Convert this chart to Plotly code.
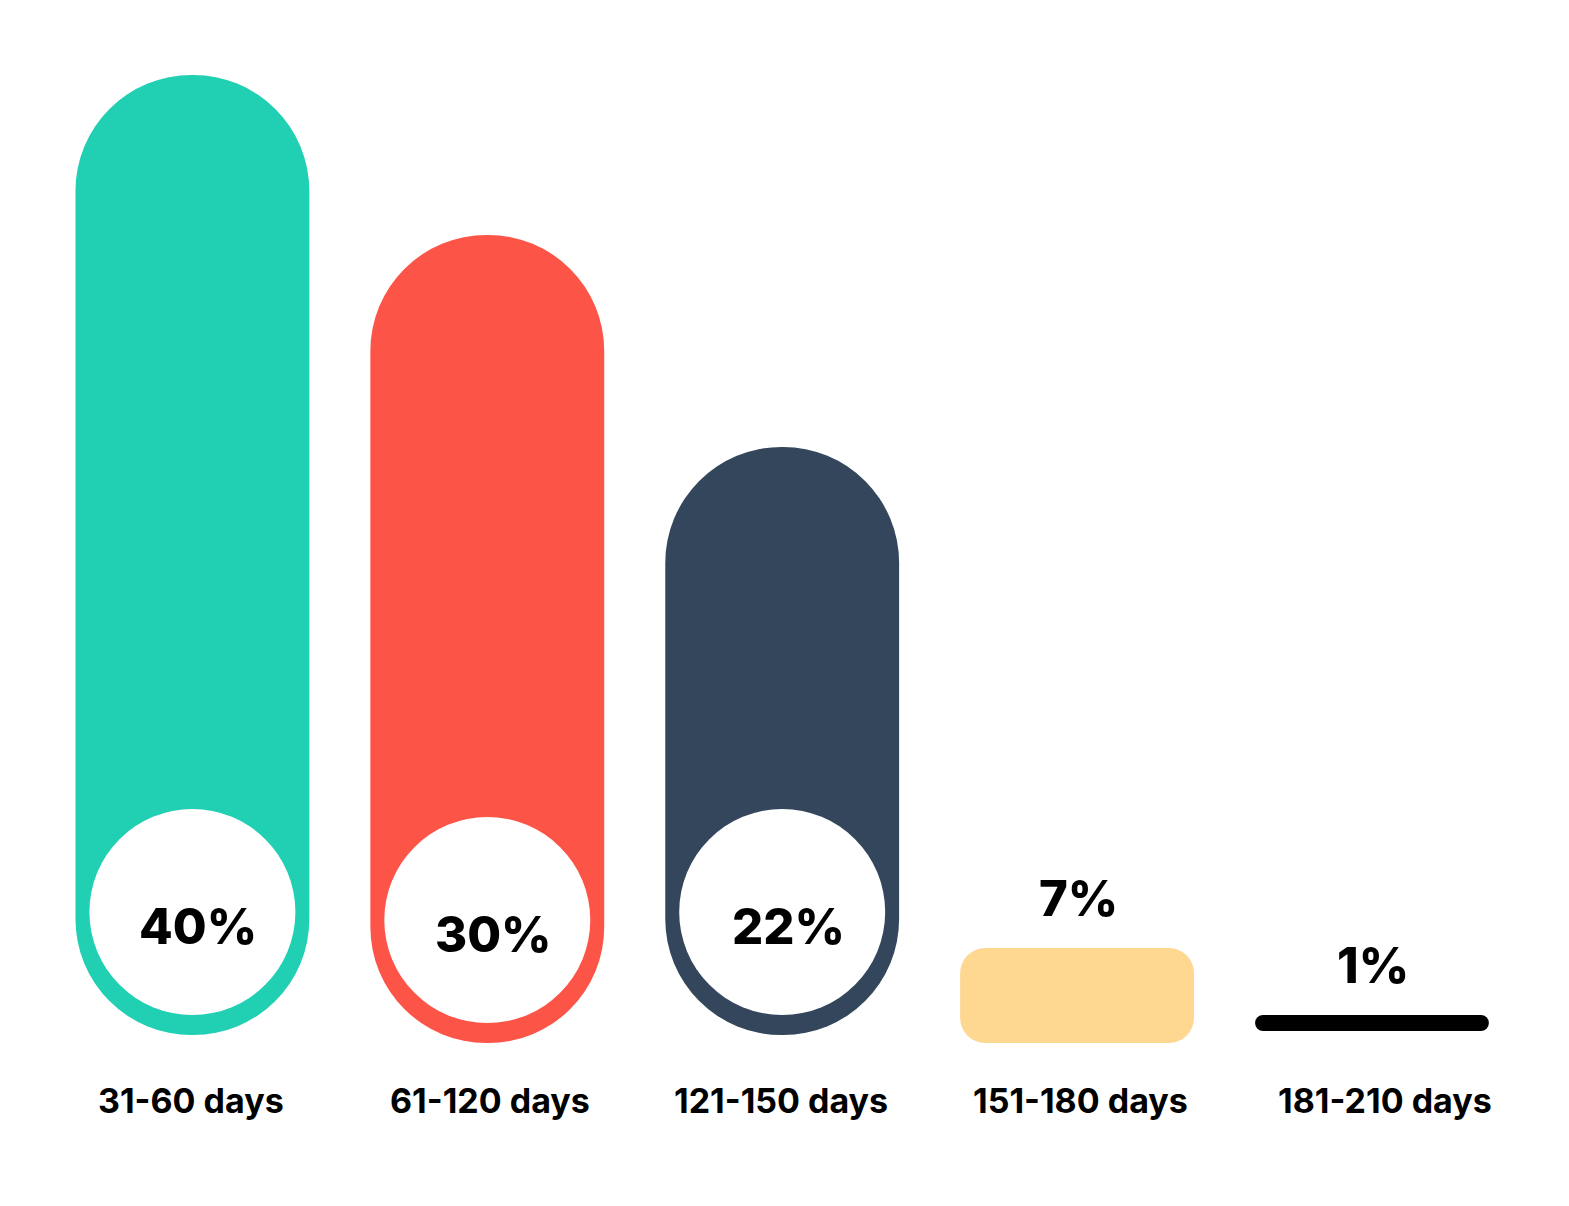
import plotly.graph_objects as go

categories = ["31-60 days", "61-120 days", "121-150 days", "151-180 days", "181-210 days"]
shares = [40, 30, 22, 7, 1]
# drawn bar lengths (px) - the design does not scale them linearly with the shares
bar_length = [960, 808, 588, 95, 16]

# styling
colors = ["#21CFB2", "#FD5448", "#33465B", "#FED891", "#000000"]
corner = [117, 117, 117, 25, 8]
bottom_offset = [0, -8, 0, -8, 4]
has_circle = [True, True, True, False, False]
label_shift = [-1, 3, -1, 3, 13]
FONT = "Inter"

BAR_W = 0.793  # in category units (~234 px)

fig = go.Figure()

# a bar with an explicit base gets rounded on both ends -> pill / rounded rect
for i, cat in enumerate(categories):
    fig.add_trace(go.Bar(
        x=[cat], y=[bar_length[i]], base=[bottom_offset[i]],
        width=BAR_W,
        marker=dict(color=colors[i], line=dict(width=0), cornerradius=corner[i]),
        hoverinfo="skip", showlegend=False,
    ))

circ_x = [c for c, h in zip(categories, has_circle) if h]
circ_y = [b + 123 for b, h in zip(bottom_offset, has_circle) if h]
fig.add_trace(go.Scatter(
    x=circ_x, y=circ_y, mode="markers",
    marker=dict(size=206, color="white", line=dict(width=0)),
    hoverinfo="skip", showlegend=False,
))

annotations = []
for i, cat in enumerate(categories):
    if has_circle[i]:
        y = bottom_offset[i] + 109
    else:
        y = bottom_offset[i] + bar_length[i] + 50
    annotations.append(dict(
        x=cat, y=y, text=f"{shares[i]}%", showarrow=False,
        xshift=6 if has_circle[i] else 1, yanchor="middle",
        font=dict(family=FONT, size=49, color="#000000", weight=800),
    ))
    annotations.append(dict(
        x=cat, y=-65, text=cat, showarrow=False, yanchor="middle",
        xshift=label_shift[i],
        font=dict(family=FONT, size=34, color="#000000", weight=700),
    ))

fig.update_layout(
    width=1553, height=1190,
    margin=dict(l=0, r=0, t=0, b=0),
    paper_bgcolor="white", plot_bgcolor="white",
    barmode="overlay",
    annotations=annotations,
    xaxis=dict(range=[-0.6253, 4.641], visible=False, fixedrange=True),
    yaxis=dict(range=[-163, 1027], visible=False, fixedrange=True),
)

fig.write_html("out.html")
